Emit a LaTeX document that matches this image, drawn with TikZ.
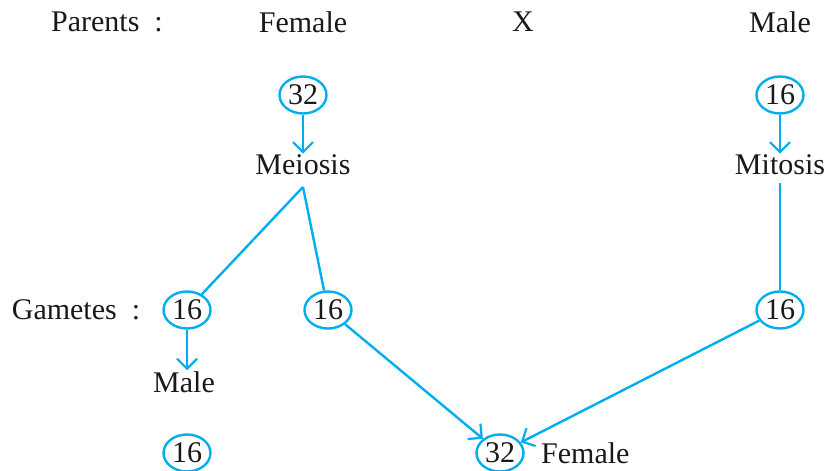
\documentclass[tikz,border=0pt]{standalone}
\usepackage{fontspec}
\setmainfont{Liberation Serif}
\usetikzlibrary{shapes.geometric,arrows.meta}
\definecolor{lineblue}{RGB}{0,174,239}
\begin{document}
\begin{tikzpicture}[x=1pt,y=-1pt,
  every node/.style={font=\fontsize{30}{35}\selectfont, text=black!90},
  num/.style={ellipse, draw=lineblue, line width=2.4pt, minimum width=47pt, minimum height=37pt, inner sep=0pt},
  lbl/.style={inner sep=1pt},
  conn/.style={draw=lineblue, line width=2.4pt},
  arr/.style={conn, -{Straight Barb[length=10pt,width=20pt,line width=2.2pt]}}]
\useasboundingbox (0,0) rectangle (825,471);
\node[lbl] (parents) at (107,22) {Parents~~:};
\node[lbl] (female) at (303,22) {Female};
\node[lbl] (x) at (523,22) {X};
\node[lbl] (male) at (780,22) {Male};
\node[num] (p1) at (303,95) {32};
\node[num] (p2) at (780,95) {16};
\node[lbl] (meiosis) at (303,165) {Meiosis};
\node[lbl] (mitosis) at (780,165) {Mitosis};
\node[lbl] (gametes) at (76,310) {Gametes~~:};
\node[num] (g1) at (187,310) {16};
\node[num] (g2) at (328,310) {16};
\node[num] (g3) at (780,310) {16};
\node[lbl] (gmale) at (184,382) {Male};
\node[num] (o1) at (187,453) {16};
\node[num] (o2) at (500,453) {32};
\node[lbl, anchor=west] (ofemale) at (540,453) {Female};
\draw[arr] (p1) -- (meiosis.north);
\draw[arr] (p2) -- (mitosis.north);
\coordinate (ms) at (303,187);
\coordinate (mt) at (780,183);
\draw[conn] (ms) -- (g1);
\draw[conn] (ms) -- (g2);
\draw[conn] (mt) -- (g3);
\draw[arr] (g1.south) -- (g1.south |- gmale.north);
\draw[arr] (g2) -- (o2);
\draw[arr] (g3) -- (o2);
\end{tikzpicture}
\end{document}
